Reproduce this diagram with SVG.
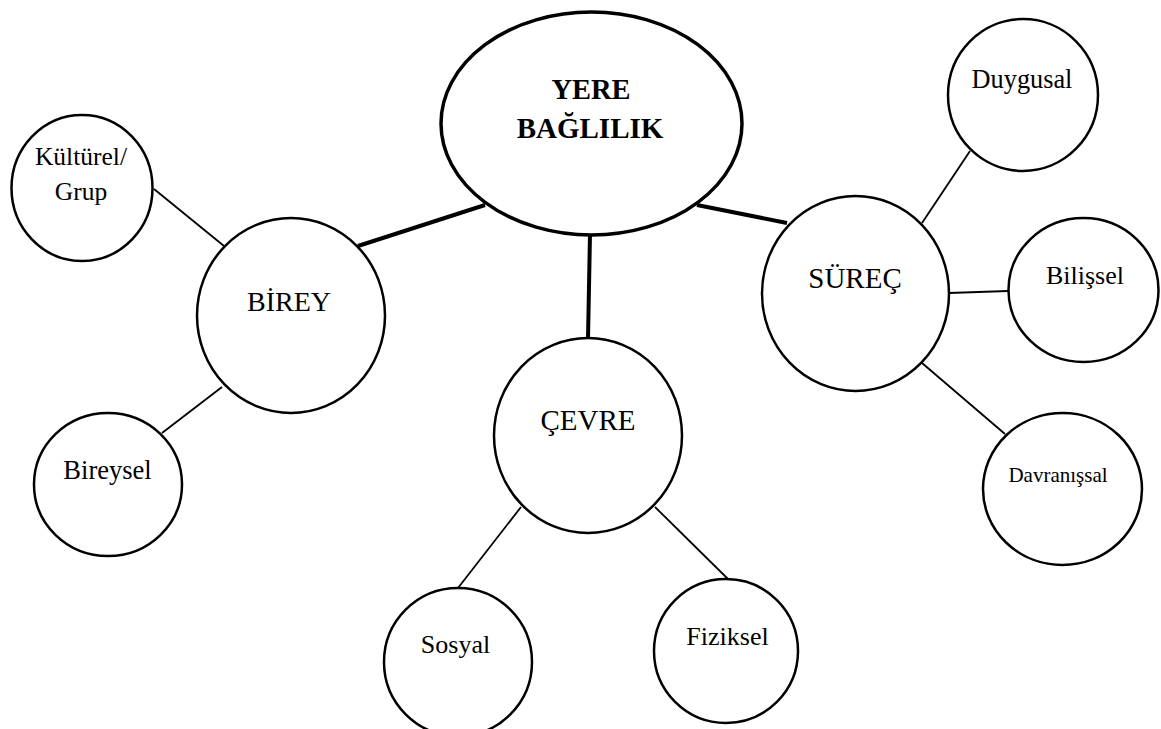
<svg xmlns="http://www.w3.org/2000/svg" width="1161" height="729" viewBox="0 0 1161 729">
<style>
.n{fill:#fff;stroke:#000;stroke-width:2.5}
.main{fill:#fff;stroke:#000;stroke-width:3.5}
.t{font-family:"Liberation Serif","Times New Roman",serif;fill:#000;text-anchor:middle}
.thick{stroke:#000;stroke-width:4;fill:none}
.thin{stroke:#000;stroke-width:1.8;fill:none}
</style>
<rect width="1161" height="729" fill="#fff"/>
<g id="connectors">
<line class="thick" x1="485" y1="205" x2="358" y2="246"/>
<line class="thick" x1="590" y1="234" x2="588" y2="339"/>
<line class="thick" x1="697" y1="205" x2="787" y2="223"/>
<line class="thin" x1="154" y1="189" x2="224" y2="246"/>
<line class="thin" x1="162" y1="433" x2="222" y2="387"/>
<line class="thin" x1="521" y1="507" x2="458" y2="588"/>
<line class="thin" x1="655" y1="507" x2="728" y2="579"/>
<line class="thin" x1="922" y1="223" x2="970" y2="151"/>
<line class="thin" x1="949" y1="293" x2="1008" y2="291"/>
<line class="thin" x1="922" y1="363" x2="1005" y2="434"/>
</g>
<g id="yere-baglilik">
<ellipse class="main" cx="591.5" cy="123.5" rx="150.5" ry="111.5"/>
<text class="t" x="591" y="99" font-size="28.5" font-weight="bold">YERE</text>
<text class="t" x="590" y="138" font-size="29" font-weight="bold">BAĞLILIK</text>
</g>
<g id="birey">
<ellipse class="n" cx="291" cy="315.5" rx="94" ry="97.5"/>
<text class="t" x="289" y="311" font-size="28">BİREY</text>
</g>
<g id="kulturel-grup">
<ellipse class="n" cx="82" cy="188" rx="70.5" ry="73"/>
<text class="t" x="81" y="165" font-size="25.5">Kültürel/</text>
<text class="t" x="81" y="200" font-size="25.5">Grup</text>
</g>
<g id="bireysel">
<ellipse class="n" cx="108" cy="484.5" rx="74" ry="71.5"/>
<text class="t" x="107.5" y="479" font-size="26.5">Bireysel</text>
</g>
<g id="cevre">
<ellipse class="n" cx="588" cy="435.5" rx="94" ry="97.5"/>
<text class="t" x="588" y="430" font-size="29">ÇEVRE</text>
</g>
<g id="sosyal">
<ellipse class="n" cx="458" cy="662" rx="74" ry="74"/>
<text class="t" x="455.5" y="653" font-size="26">Sosyal</text>
</g>
<g id="fiziksel">
<ellipse class="n" cx="726" cy="651" rx="72" ry="72"/>
<text class="t" x="727.5" y="645" font-size="26">Fiziksel</text>
</g>
<g id="surec">
<ellipse class="n" cx="855.5" cy="293.5" rx="93.5" ry="97.5"/>
<text class="t" x="855" y="288" font-size="29">SÜREÇ</text>
</g>
<g id="duygusal">
<ellipse class="n" cx="1023" cy="95" rx="75" ry="76"/>
<text class="t" x="1022" y="88" font-size="26.3">Duygusal</text>
</g>
<g id="bilissel">
<ellipse class="n" cx="1083.5" cy="290" rx="75" ry="72"/>
<text class="t" x="1085" y="284" font-size="26">Bilişsel</text>
</g>
<g id="davranissal">
<ellipse class="n" cx="1062.5" cy="489" rx="79.5" ry="76"/>
<text class="t" x="1058" y="482" font-size="21">Davranışsal</text>
</g>
</svg>
